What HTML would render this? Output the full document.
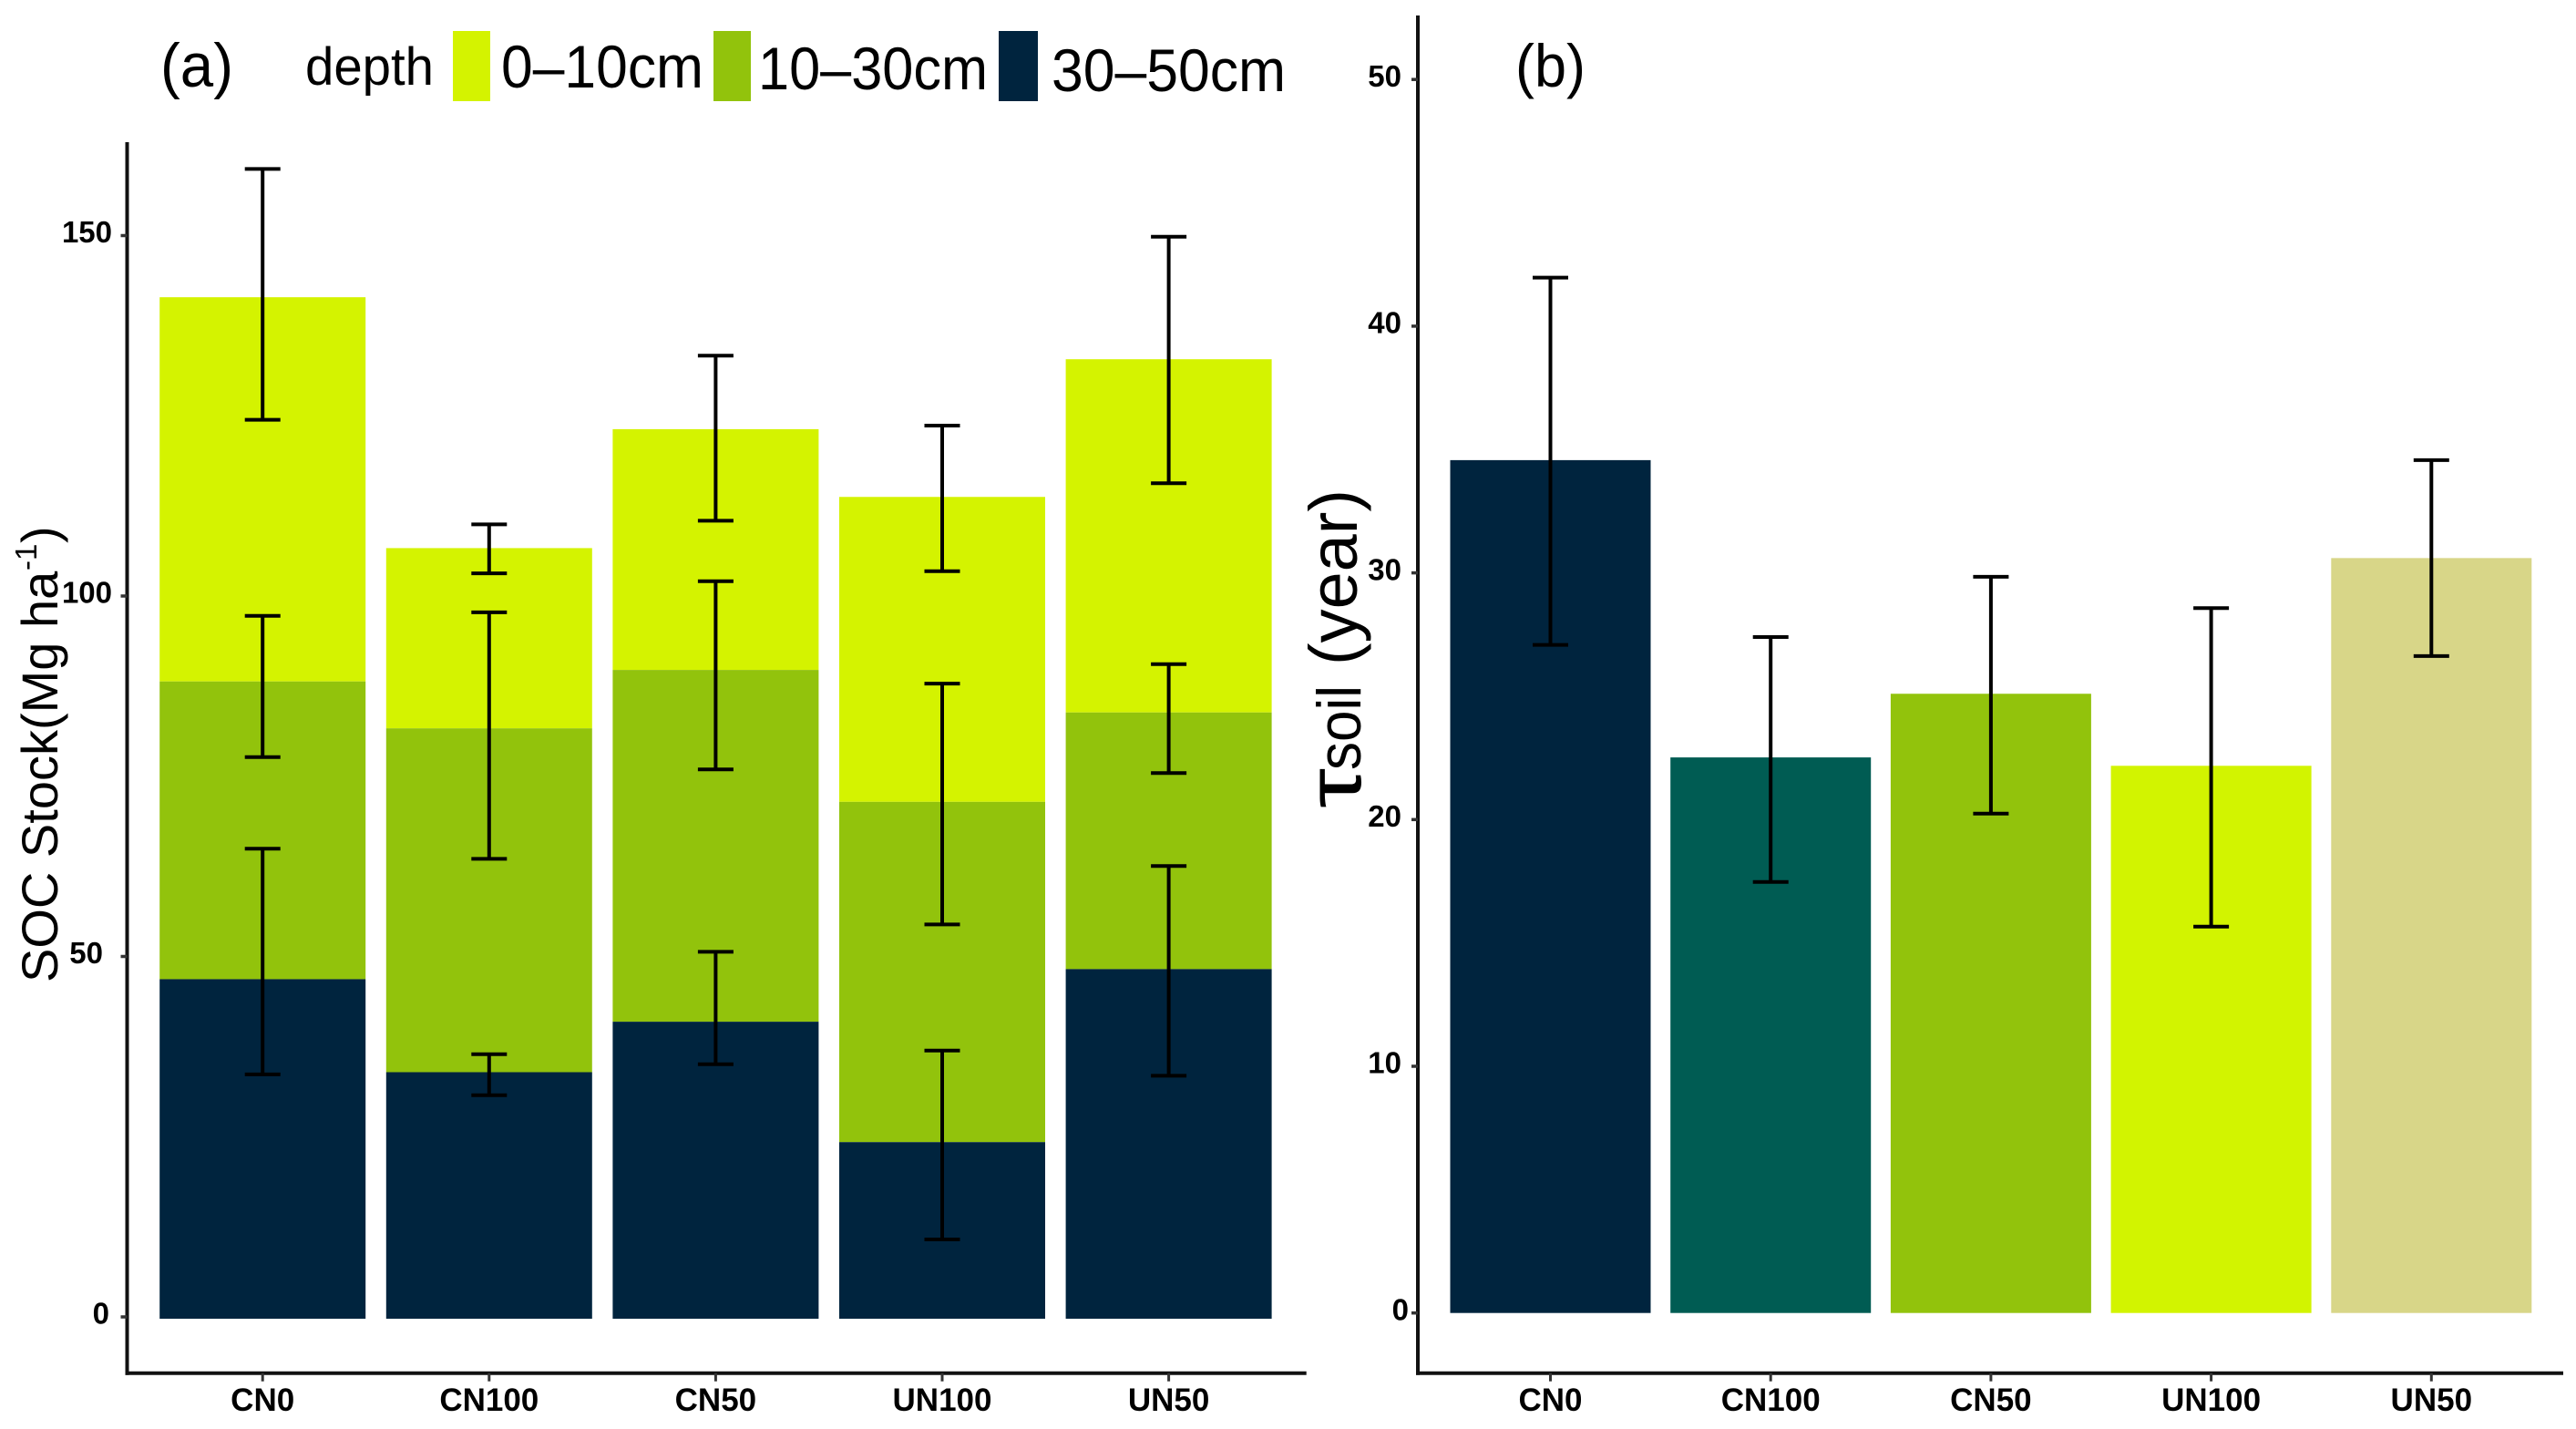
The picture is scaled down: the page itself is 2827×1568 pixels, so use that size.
<!DOCTYPE html>
<html lang="en">
<head>
<meta charset="utf-8">
<title>SOC stock and soil turnover time</title>
<style>
html,body{margin:0;padding:0;background:#fff;}
svg{display:block;}
text{font-family:"Liberation Sans",Arial,sans-serif;fill:#000;}
.tick-label{font-weight:bold;font-size:33px;}
.cat-label{font-weight:bold;font-size:35px;text-anchor:middle;}
</style>
</head>
<body>
<svg id="chart" xmlns="http://www.w3.org/2000/svg" width="2827" height="1568" viewBox="0 0 2827 1568">
  <rect x="0" y="0" width="2827" height="1568" fill="#ffffff"/>
  <g id="panel-a"></g>
  <g id="panel-b"></g>

  <text x="176" y="95" font-size="68" textLength="80" lengthAdjust="spacingAndGlyphs">(a)</text>
  <g>
    <text x="335" y="93" font-size="58" textLength="141" lengthAdjust="spacingAndGlyphs">depth</text>
    <rect x="497" y="34" width="41" height="77" fill="#d4f300"/>
    <text x="550" y="96" font-size="66" textLength="222" lengthAdjust="spacingAndGlyphs">0–10cm</text>
    <rect x="783" y="34" width="41" height="77" fill="#92c30c"/>
    <text x="832" y="98" font-size="66" textLength="252" lengthAdjust="spacingAndGlyphs">10–30cm</text>
    <rect x="1096" y="34" width="43" height="77" fill="#00243e"/>
    <text x="1154" y="100" font-size="66" textLength="257" lengthAdjust="spacingAndGlyphs">30–50cm</text>
  </g>
  <text transform="translate(63,1078) rotate(-90)" font-size="56"><tspan x="0">SOC Stock(Mg ha</tspan><tspan x="452" dy="-23" font-size="33">-1</tspan><tspan x="482" dy="23">)</tspan></text>

  <text x="1663" y="95" font-size="66" textLength="77" lengthAdjust="spacingAndGlyphs">(b)</text>
  <g>
    <text transform="translate(1493,887) rotate(-90)" font-size="84" textLength="44" lengthAdjust="spacingAndGlyphs">τ</text>
    <text transform="translate(1493,845) rotate(-90)" font-size="68" textLength="93" lengthAdjust="spacingAndGlyphs">soil</text>
    <text transform="translate(1489,730) rotate(-90)" font-size="74" textLength="193" lengthAdjust="spacingAndGlyphs">(year)</text>
  </g>
</svg>

<script>
// ---------- shared ----------
const categories = ['CN0', 'CN100', 'CN50', 'UN100', 'UN50'];

// ---------- panel (a): SOC stock, stacked by depth ----------
const socTicks = [0, 50, 100, 150];
const socDepth3050 = [47.1, 34.2, 41.2, 24.5, 48.5];
const socDepth1030 = [41.3, 47.7, 48.8, 47.2, 35.6];
const socDepth010 = [53.3, 25.0, 33.4, 42.3, 49.0];
const socErrHigh3050 = [65.2, 36.7, 50.9, 37.2, 62.8];
const socErrLow3050 = [33.9, 31.0, 35.3, 11.0, 33.7];
const socErrHigh1030 = [97.5, 98.0, 102.3, 88.1, 90.8];
const socErrLow1030 = [77.9, 63.8, 76.2, 54.7, 75.7];
const socErrHigh010 = [159.5, 110.2, 133.6, 123.9, 150.1];
const socErrLow010 = [124.7, 103.4, 110.7, 103.7, 115.9];

// ---------- panel (b): turnover time ----------
const tauTicks = [0, 10, 20, 30, 40, 50];
const tauValues = [34.57, 22.52, 25.1, 22.18, 30.6];
const tauErrHigh = [41.97, 27.4, 29.84, 28.57, 34.57];
const tauErrLow = [27.08, 17.47, 20.24, 15.66, 26.63];

const NS = 'http://www.w3.org/2000/svg';
const AXIS_COLOR = '#111111';
const TICK_COLOR = '#333333';

function make(parent, tag, attrs, text) {
  const el = document.createElementNS(NS, tag);
  Object.keys(attrs).forEach(function (k) { el.setAttribute(k, attrs[k]); });
  if (text !== undefined) el.textContent = text;
  parent.appendChild(el);
  return el;
}

// axis functions
const xA = function (i) { return 288.2 + 248.6 * i; };
const yA = function (v) { return 1447 - 7.91 * v; };
const xB = function (i) { return 1701.5 + 241.7 * i; };
const yB = function (v) { return 1440.7 - 27.07 * v; };

function drawBar(parent, cx, width, yTop, yBottom, fill, label) {
  const el = make(parent, 'rect', { x: cx - width / 2, y: yTop, width: width, height: yBottom - yTop, fill: fill });
  
  
}

function drawError(parent, cx, yHigh, yLow, label) {
  const g = make(parent, 'g', { stroke: '#000000', 'stroke-width': 4, fill: 'none' });
  
  
  make(g, 'line', { x1: cx, x2: cx, y1: yHigh, y2: yLow });
  make(g, 'line', { x1: cx - 19.5, x2: cx + 19.5, y1: yHigh, y2: yHigh });
  make(g, 'line', { x1: cx - 19.5, x2: cx + 19.5, y1: yLow, y2: yLow });
}

function drawAxes(parent, axisX, axisTop, axisRight, tickList, tickY, labelRight, labelNudge, xFn) {
  const axisY = 1506.7;
  const yAxis = make(parent, 'line', { x1: axisX, x2: axisX, y1: axisTop, y2: axisY + 2, stroke: AXIS_COLOR, 'stroke-width': 4 });
  
  
  const xAxis = make(parent, 'line', { x1: axisX - 2, x2: axisRight, y1: axisY, y2: axisY, stroke: AXIS_COLOR, 'stroke-width': 4 });
  
  

  tickList.forEach(function (v) {
    const y = tickY(v);
    const tick = make(parent, 'line', { x1: axisX - 7, x2: axisX, y1: y, y2: y, stroke: TICK_COLOR, 'stroke-width': 3.5 });
    
    
    const label = make(parent, 'text', { x: labelRight + (labelNudge[v] || 0), y: y + 7.7, 'text-anchor': 'end', 'class': 'tick-label' }, String(v));
    
    
  });

  categories.forEach(function (c, i) {
    const x = xFn(i);
    const tick = make(parent, 'line', { x1: x, x2: x, y1: axisY, y2: axisY + 9, stroke: TICK_COLOR, 'stroke-width': 3 });
    
    
    const label = make(parent, 'text', { x: x, y: 1548, 'class': 'cat-label' }, c);
    
    
  });
}

// ---------- render panel (a) ----------
const panelA = document.getElementById('panel-a');
const A_BAR_WIDTH = 226;
categories.forEach(function (c, i) {
  const top1 = socDepth3050[i];
  const top2 = top1 + socDepth1030[i];
  const top3 = top2 + socDepth010[i];
  drawBar(panelA, xA(i), A_BAR_WIDTH, yA(top3), yA(top2), '#d4f300', 'bar-0-10cm');
  drawBar(panelA, xA(i), A_BAR_WIDTH, yA(top2), yA(top1), '#92c30c', 'bar-10-30cm');
  drawBar(panelA, xA(i), A_BAR_WIDTH, yA(top1), yA(0), '#00243e', 'bar-30-50cm');
});
categories.forEach(function (c, i) {
  drawError(panelA, xA(i), yA(socErrHigh010[i]), yA(socErrLow010[i]), 'error-bar-0-10cm');
  drawError(panelA, xA(i), yA(socErrHigh1030[i]), yA(socErrLow1030[i]), 'error-bar-10-30cm');
  drawError(panelA, xA(i), yA(socErrHigh3050[i]), yA(socErrLow3050[i]), 'error-bar-30-50cm');
});
drawAxes(panelA, 139.5, 156, 1433.7, socTicks, function (v) { return yA(v) - 2; }, 123, { 50: -10, 0: -3 }, xA);

// ---------- render panel (b) ----------
const panelB = document.getElementById('panel-b');
const B_BAR_WIDTH = 220;
const tauColors = ['#00243e', '#005c53', '#92c30c', '#d2f400', '#d8d688'];
categories.forEach(function (c, i) {
  drawBar(panelB, xB(i), B_BAR_WIDTH, yB(tauValues[i]), yB(0), tauColors[i], 'bar-turnover');
});
categories.forEach(function (c, i) {
  drawError(panelB, xB(i), yB(tauErrHigh[i]), yB(tauErrLow[i]), 'error-bar-turnover');
});
drawAxes(panelB, 1556, 17, 2813, tauTicks, yB, 1538, { 0: 8 }, xB);
</script>
</body>
</html>
